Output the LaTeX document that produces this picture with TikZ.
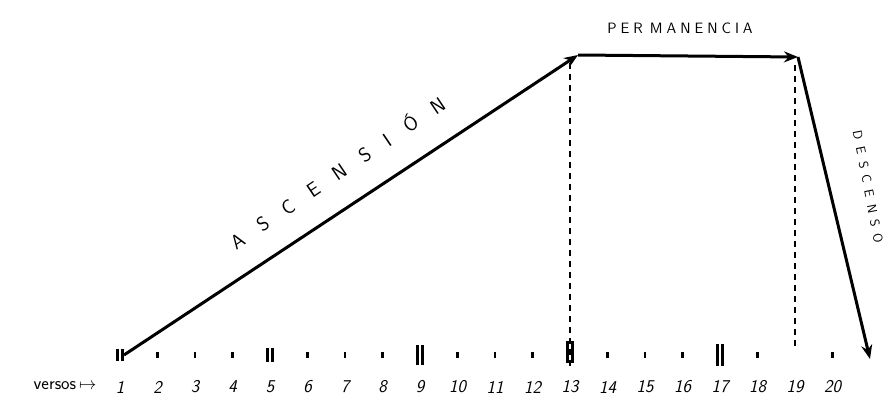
\documentclass[tikz,border=0pt]{standalone}
\usetikzlibrary{arrows.meta}
\begin{document}
\begin{tikzpicture}[x=1pt,y=-1pt,
  mainarrow/.style={line width=3pt,-{Stealth[length=14pt,width=11pt]}},
  guide/.style={line width=2pt,dash pattern=on 6pt off 5pt},
  tick/.style={line width=2.2pt},
  num/.style={font=\sffamily\itshape\fontsize{18}{20}\selectfont}]
\useasboundingbox (0,0) rectangle (887,399);
% key points
\coordinate (S) at (124,355);
\coordinate (A) at (578,55);
\coordinate (B) at (798,57);
\coordinate (E) at (870,359);
% axis positions
\foreach \n in {1,...,20}{
  \coordinate (p\n) at ({120+37.5*(\n-1)},355);
  \node[num] (n\n) at ({120+37.5*(\n-1)},387) {\n};
}
\node[font=\sffamily\fontsize{18}{20}\selectfont,anchor=east] (versos) at (100,386) {versos\,$\mapsto$};
% single ticks
\foreach \n in {2,3,4,6,7,8,10,11,12,14,15,16,18,20}{
  \draw[tick] ([yshift=-3]p\n) -- ([yshift=3]p\n);
}
% double ticks
\foreach \n/\h in {1/6,5/7,9/10,17/11}{
  \draw[tick] ([xshift=-2.5,yshift=-\h]p\n) -- ([xshift=-2.5,yshift=\h]p\n);
  \draw[tick] ([xshift=2.5,yshift=-\h]p\n) -- ([xshift=2.5,yshift=\h]p\n);
}
\draw[tick] ([xshift=-2.5,yshift=-8]p13) -- ([xshift=-2.5,yshift=14]p13);
\draw[tick] ([xshift=2.5,yshift=-8]p13) -- ([xshift=2.5,yshift=14]p13);
% dashed guides
\draw[guide] (p13 |- A) ++(0,8) -- ([yshift=-12]p13);
\draw[guide] (p19 |- B) ++(0,8) -- ([yshift=8]p19);
% main arrows
\draw[mainarrow] (S) -- (A);
\draw[mainarrow] (A) -- (B);
\draw[mainarrow] (B) -- (E);
% labels
\node[font=\sffamily\fontsize{20}{22}\selectfont,rotate=34] (asc) at (337,172) {A\hspace{19pt}S\hspace{19pt}C\hspace{19pt}E\hspace{19pt}N\hspace{19pt}S\hspace{19pt}I\hspace{19pt}Ó\hspace{19pt}N};
\node[font=\sffamily\fontsize{15}{17}\selectfont] (perm) at (680,28) {P\hspace{4pt}E\hspace{4pt}R\hspace{7pt}M\hspace{4pt}A\hspace{4pt}N\hspace{4pt}E\hspace{4pt}N\hspace{4pt}C\hspace{4pt}I\hspace{4pt}A};
\node[font=\sffamily\fontsize{13}{15}\selectfont,rotate=-79] (desc) at (868,187) {D\hspace{7pt}E\hspace{7pt}S\hspace{7pt}C\hspace{7pt}E\hspace{7pt}N\hspace{7pt}S\hspace{7pt}O};
\end{tikzpicture}
\end{document}
